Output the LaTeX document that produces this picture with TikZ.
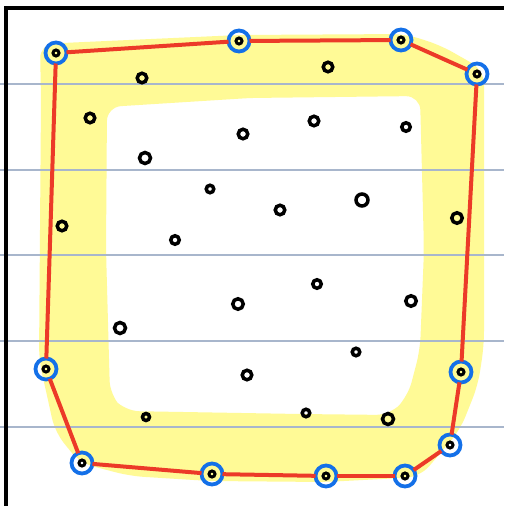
\documentclass[tikz,border=0pt]{standalone}
\definecolor{hl}{RGB}{255,250,150}
\definecolor{rulecol}{RGB}{168,182,204}
\definecolor{hullred}{RGB}{236,58,40}
\definecolor{hullblue}{RGB}{20,112,232}
\tikzset{
  dotpt/.style={circle, draw=black, line width=3.5pt, minimum size=9.5pt, inner sep=0pt},
  hullpt/.style={circle, draw=hullblue, line width=3.8pt, minimum size=21pt, inner sep=0pt, outer sep=0pt,
    path picture={\draw[black, line width=3pt] (path picture bounding box.center) circle (3pt);}},
  hulledge/.style={draw=hullred, line width=4pt},
  ruleline/.style={draw=rulecol, line width=1.4pt},
  frameline/.style={draw=black, line width=4.6pt, line join=miter}
}
\begin{document}
\begin{tikzpicture}[x=1pt,y=-1pt]
\useasboundingbox (0,0) rectangle (504,506);
\fill[white] (0,0) rectangle (504,506);
% yellow highlight band
\fill[hl, even odd rule, rounded corners=14pt]
  (40,44) -- (240,35) -- (405,34) -- (440,45) -- (484,70) -- (484,345) -- (478,385)
  -- (460,430) -- (420,477) -- (325,482) -- (210,481) -- (130,476) -- (80,463)
  -- (55,432) -- (48,400) -- (39,360) -- (41,100) -- cycle
  {[rounded corners=6pt] (107,107) -- (250,98)} -- (420,96) -- (424,250) -- (420,350) -- (408,396)
  -- (390,415) -- (300,414) -- (125,411) -- (110,395) -- (106,250) -- cycle;
% ruled lines
\foreach \yy in {84,170,255,341,427} { \draw[ruleline] (0,\yy) -- (504,\yy); }
% frame
\draw[frameline] (5.8,506) -- (5.8,8) -- (504,8);
% hull points
\node[hullpt] (h1) at (56,53) {};
\node[hullpt] (h2) at (239,41) {};
\node[hullpt] (h3) at (401,40) {};
\node[hullpt] (h4) at (477,74) {};
\node[hullpt] (h5) at (461,372) {};
\node[hullpt] (h6) at (450,445) {};
\node[hullpt] (h7) at (405,476) {};
\node[hullpt] (h8) at (326,476) {};
\node[hullpt] (h9) at (212,474) {};
\node[hullpt] (h10) at (82,463) {};
\node[hullpt] (h11) at (46,369) {};
% hull edges
\draw[hulledge] (h1) -- (h2);
\draw[hulledge] (h2) -- (h3);
\draw[hulledge] (h3) -- (h4);
\draw[hulledge] (h4) -- (h5);
\draw[hulledge] (h5) -- (h6);
\draw[hulledge] (h6) -- (h7);
\draw[hulledge] (h7) -- (h8);
\draw[hulledge] (h8) -- (h9);
\draw[hulledge] (h9) -- (h10);
\draw[hulledge] (h10) -- (h11);
\draw[hulledge] (h11) -- (h1);
% interior points
\node[dotpt] (p1) at (142,78) {};
\node[dotpt] (p2) at (90,118) {};
\node[dotpt] (p3) at (243,134) {};
\node[dotpt, minimum size=11pt] (p4) at (145,158) {};
\node[dotpt, minimum size=7.5pt] (p5) at (210,189) {};
\node[dotpt] (p6) at (62,226) {};
\node[dotpt, minimum size=8.5pt] (p7) at (175,240) {};
\node[dotpt] (p8) at (328,67) {};
\node[dotpt] (p9) at (314,121) {};
\node[dotpt, minimum size=8.5pt] (p10) at (406,127) {};
\node[dotpt] (p11) at (280,210) {};
\node[dotpt, minimum width=9pt, minimum height=12pt] (p12) at (362,200) {};
\node[dotpt, minimum size=10.5pt] (p13) at (457,218) {};
\node[dotpt, minimum size=10.5pt] (p14) at (238,304) {};
\node[dotpt, minimum size=11pt] (p15) at (120,328) {};
\node[dotpt] (p16) at (247,375) {};
\node[dotpt, minimum size=7pt] (p17) at (146,417) {};
\node[dotpt, minimum size=8.5pt] (p18) at (317,284) {};
\node[dotpt, minimum size=10.5pt] (p19) at (411,301) {};
\node[dotpt, minimum size=7.5pt] (p20) at (356,352) {};
\node[dotpt, minimum size=7.5pt] (p21) at (306,413) {};
\node[dotpt, minimum size=11pt] (p22) at (388,419) {};
\end{tikzpicture}
\end{document}
